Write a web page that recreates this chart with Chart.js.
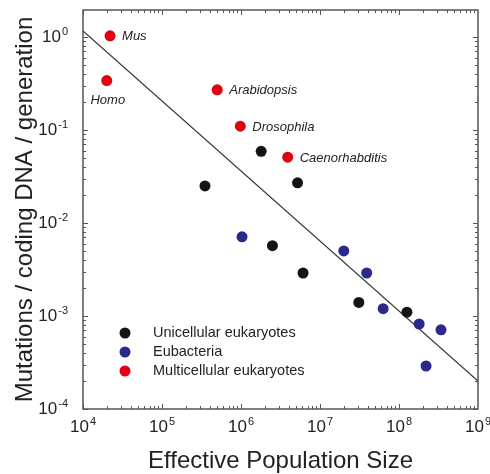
<!DOCTYPE html>
<html>
<head>
<meta charset="utf-8">
<title>Mutation rate vs effective population size</title>
<script src="https://cdn.jsdelivr.net/npm/chart.js@4.4.0/dist/chart.umd.min.js"></script>
<style>
  html, body { margin: 0; padding: 0; background: #fff; }
  #wrap { width: 490px; height: 474px; }
</style>
</head>
<body>
<div id="wrap"><canvas id="mutChart"></canvas></div>
<script>
// Unicellular eukaryotes
const uniX = [3.5e5, 1.8e6, 5.2e6, 2.5e6, 6.1e6, 3.1e7, 1.26e8];
const uniY = [0.025, 0.059, 0.027, 0.0057, 0.0029, 0.0014, 0.0011];
// Eubacteria
const bactX = [1.03e6, 2.0e7, 3.9e7, 6.3e7, 1.8e8, 3.4e8, 2.2e8];
const bactY = [0.0071, 0.0050, 0.0029, 0.0012, 0.00082, 0.00071, 0.00029];
// Multicellular eukaryotes
const multiX = [2.2e4, 2.0e4, 5.0e5, 9.8e5, 3.9e6];
const multiY = [1.03, 0.34, 0.27, 0.11, 0.051];
const multiNames = ['Mus', 'Homo', 'Arabidopsis', 'Drosophila', 'Caenorhabditis'];
// regression line end points
const fitX = [1e4, 1e9];
const fitY = [1.16, 2.0e-4];
// decade exponents for the axis labels
const xTickExp = [4, 5, 6, 7, 8, 9];
const yTickExp = [0, -1, -2, -3, -4];

const FONT = "'Liberation Sans', Arial, Helvetica, sans-serif";
const pts = (xs, ys) => xs.map((x, i) => ({ x: x, y: ys[i] }));

// Homo label sits under its dot, the rest to the right
const nameBelow = { Homo: true };

// 10 with a raised exponent
function drawPow(ctx, exp, x, y, align) {
  const base = '10', sup = String(exp);
  ctx.font = '17px ' + FONT;
  const wb = ctx.measureText(base).width;
  ctx.font = '11px ' + FONT;
  const ws = ctx.measureText(sup).width;
  const total = wb + ws + 1;
  let x0 = align === 'right' ? x - total : x - total / 2;
  ctx.fillStyle = '#222';
  ctx.textBaseline = 'middle';
  ctx.textAlign = 'left';
  ctx.font = '17px ' + FONT;
  ctx.fillText(base, x0, y);
  ctx.font = '11px ' + FONT;
  ctx.fillText(sup, x0 + wb + 1, y - 5);
}

const framePlugin = {
  id: 'frame',
  afterDraw(chart) {
    const { ctx, chartArea: a, scales } = chart;
    const xs = scales.x, ys = scales.y;
    ctx.save();

    // frame
    ctx.strokeStyle = '#555';
    ctx.lineWidth = 1.5;
    ctx.strokeRect(a.left, a.top, a.right - a.left, a.bottom - a.top);

    // inward ticks on all four sides
    ctx.lineWidth = 1;
    ctx.strokeStyle = '#555';
    ctx.beginPath();
    for (let d = 4; d <= 8; d++) {
      for (let m = 1; m <= 9; m++) {
        const v = m * Math.pow(10, d);
        if (v > xs.max) continue;
        const px = Math.round(xs.getPixelForValue(v)) + 0.5;
        const len = m === 1 ? 5 : 3;
        ctx.moveTo(px, a.bottom); ctx.lineTo(px, a.bottom - len);
        ctx.moveTo(px, a.top); ctx.lineTo(px, a.top + len);
      }
    }
    for (let d = -4; d <= 0; d++) {
      for (let m = 1; m <= 9; m++) {
        const v = m * Math.pow(10, d);
        if (v >= ys.max) continue;
        const py = Math.round(ys.getPixelForValue(v)) + 0.5;
        const len = m === 1 ? 5 : 3;
        ctx.moveTo(a.left, py); ctx.lineTo(a.left + len, py);
        ctx.moveTo(a.right, py); ctx.lineTo(a.right - len, py);
      }
    }
    ctx.stroke();

    // tick labels
    xTickExp.forEach(e => drawPow(ctx, e, xs.getPixelForValue(Math.pow(10, e)), a.bottom + 18, 'center'));
    yTickExp.forEach(e => drawPow(ctx, e, a.left - 15, ys.getPixelForValue(Math.pow(10, e)), 'right'));

    // axis titles
    ctx.fillStyle = '#222';
    ctx.font = '24px ' + FONT;
    ctx.textAlign = 'center';
    ctx.textBaseline = 'alphabetic';
    ctx.fillText('Effective Population Size', (a.left + a.right) / 2, 468);
    ctx.save();
    ctx.translate(32, (a.top + a.bottom) / 2);
    ctx.rotate(-Math.PI / 2);
    ctx.fillText('Mutations / coding DNA / generation', 0, 0);
    ctx.restore();

    // species names beside the red dots
    ctx.font = 'italic 13px ' + FONT;
    ctx.fillStyle = '#222';
    ctx.textBaseline = 'middle';
    multiNames.forEach((name, i) => {
      const px = xs.getPixelForValue(multiX[i]);
      const py = ys.getPixelForValue(multiY[i]);
      if (nameBelow[name]) {
        ctx.textAlign = 'center';
        ctx.fillText(name, px + 1, py + 20);
      } else {
        ctx.textAlign = 'left';
        ctx.fillText(name, px + 12, py + 1);
      }
    });

    // legend inside the plot
    const items = chart.data.datasets.filter(ds => !ds.showLine);
    items.forEach((ds, i) => {
      const ly = 333 + i * 19;
      ctx.beginPath();
      ctx.fillStyle = ds.backgroundColor;
      ctx.arc(125, ly, 5.5, 0, Math.PI * 2);
      ctx.fill();
      ctx.fillStyle = '#222';
      ctx.font = '14.5px ' + FONT;
      ctx.textAlign = 'left';
      ctx.fillText(ds.label, 153, ly);
    });
    ctx.restore();
  }
};

const pointStyle = color => ({
  backgroundColor: color,
  borderColor: color,
  pointRadius: 5.5,
  pointHoverRadius: 5.5,
  borderWidth: 0
});

new Chart(document.getElementById('mutChart'), {
  type: 'scatter',
  data: {
    datasets: [
      Object.assign({ label: 'Unicellular eukaryotes', data: pts(uniX, uniY) }, pointStyle('#141414')),
      Object.assign({ label: 'Eubacteria', data: pts(bactX, bactY) }, pointStyle('#2b2a8c')),
      Object.assign({ label: 'Multicellular eukaryotes', data: pts(multiX, multiY) }, pointStyle('#e3000f')),
      {
        label: 'fit',
        data: pts(fitX, fitY),
        showLine: true,
        borderColor: '#333',
        borderWidth: 1.2,
        pointRadius: 0,
        fill: false
      }
    ]
  },
  options: {
    responsive: true,
    maintainAspectRatio: false,
    animation: false,
    layout: { padding: { top: 10, right: 12, left: 0, bottom: 0 } },
    scales: {
      x: {
        type: 'logarithmic',
        min: 1e4,
        max: 1e9,
        grid: { display: false },
        border: { display: false },
        ticks: { display: false },
        afterFit(scale) { scale.height = 65; }
      },
      y: {
        type: 'logarithmic',
        min: 1e-4,
        max: 1.95,
        grid: { display: false },
        border: { display: false },
        ticks: { display: false },
        afterFit(scale) { scale.width = 83; }
      }
    },
    plugins: {
      legend: { display: false },
      tooltip: { enabled: false }
    }
  },
  plugins: [framePlugin]
});
</script>
</body>
</html>
